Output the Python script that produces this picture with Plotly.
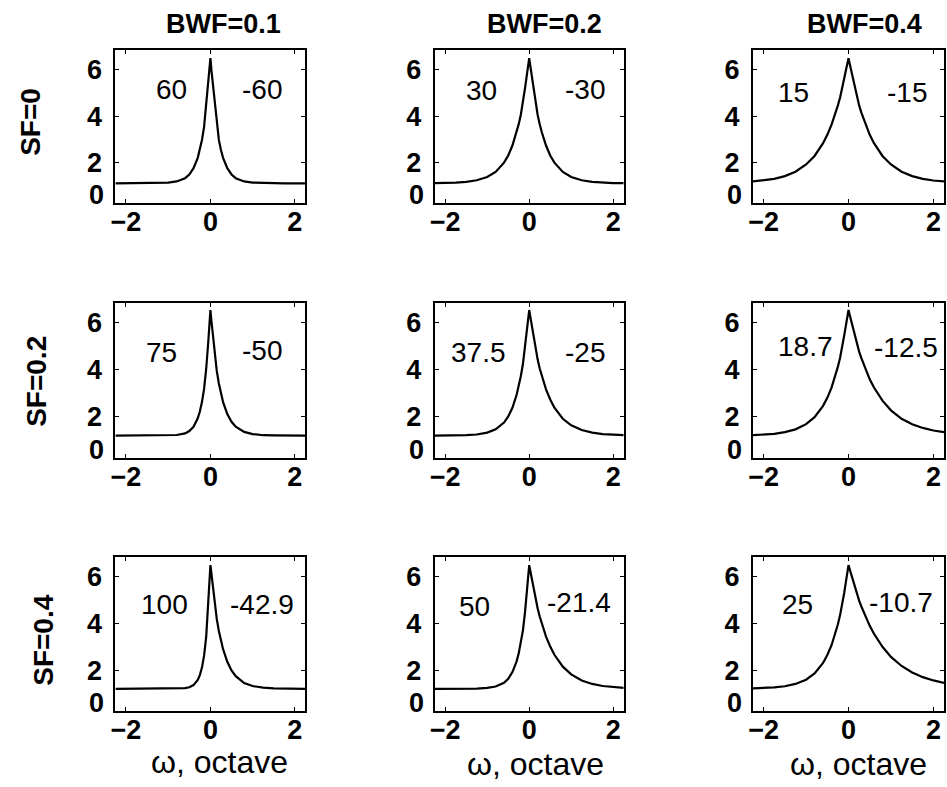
import plotly.graph_objects as go

# ---------------- data ----------------
X = [-2.25, -2.0, -1.75, -1.5, -1.25, -1.0, -0.8, -0.6, -0.5, -0.4, -0.3, -0.25, -0.2,
     -0.15, -0.1, -0.05, -0.025, 0, 0.025, 0.05, 0.1, 0.15, 0.2, 0.25, 0.3, 0.4, 0.5,
     0.6, 0.8, 1.0, 1.25, 1.5, 1.75, 2.0, 2.25]

R1C1 = [1.10, 1.10, 1.10, 1.10, 1.11, 1.13, 1.18, 1.32, 1.48, 1.75, 2.20, 2.54, 2.97, 3.53, 4.45, 5.53, 5.96,
        6.50,
        5.96, 5.53, 4.45, 3.53, 2.97, 2.54, 2.20, 1.75, 1.48, 1.32, 1.18, 1.13, 1.11, 1.10, 1.10, 1.10, 1.10]
R1C2 = [1.11, 1.11, 1.13, 1.16, 1.23, 1.37, 1.59, 1.99, 2.30, 2.73, 3.30, 3.65, 4.06, 4.55, 5.20, 5.85, 6.18,
        6.50,
        6.18, 5.85, 5.20, 4.55, 4.06, 3.65, 3.30, 2.73, 2.30, 1.99, 1.59, 1.37, 1.23, 1.16, 1.13, 1.11, 1.11]
R1C3 = [1.18, 1.22, 1.29, 1.41, 1.60, 1.91, 2.28, 2.83, 3.19, 3.63, 4.16, 4.46, 4.79, 5.16, 5.64, 6.07, 6.28,
        6.50,
        6.28, 6.07, 5.64, 5.16, 4.79, 4.46, 4.16, 3.63, 3.19, 2.83, 2.28, 1.91, 1.60, 1.41, 1.29, 1.22, 1.18]

R2C1 = [1.20, 1.20, 1.20, 1.20, 1.20, 1.21, 1.23, 1.30, 1.40, 1.58, 1.94, 2.23, 2.63, 3.19, 4.04, 5.21, 5.85,
        6.55,
        6.07, 5.64, 4.73, 3.97, 3.42, 2.98, 2.63, 2.12, 1.79, 1.58, 1.36, 1.27, 1.22, 1.21, 1.20, 1.20, 1.20]
R2C2 = [1.20, 1.20, 1.21, 1.22, 1.25, 1.33, 1.47, 1.76, 2.02, 2.39, 2.94, 3.30, 3.73, 4.25, 4.95, 5.75, 6.18,
        6.55,
        6.28, 6.02, 5.43, 4.88, 4.45, 4.06, 3.73, 3.17, 2.74, 2.39, 1.92, 1.64, 1.44, 1.33, 1.27, 1.24, 1.22]
R2C3 = [1.22, 1.24, 1.28, 1.35, 1.47, 1.69, 1.99, 2.47, 2.81, 3.25, 3.81, 4.14, 4.51, 4.93, 5.48, 6.02, 6.28,
        6.55,
        6.36, 6.18, 5.80, 5.41, 5.08, 4.78, 4.51, 4.02, 3.60, 3.25, 2.69, 2.28, 1.92, 1.69, 1.53, 1.42, 1.35]

R3C1 = [1.20, 1.20, 1.20, 1.20, 1.20, 1.20, 1.21, 1.23, 1.27, 1.36, 1.58, 1.79, 2.11, 2.62, 3.43, 4.75, 5.60,
        6.50,
        6.13, 5.71, 4.91, 4.20, 3.68, 3.25, 2.90, 2.36, 1.99, 1.74, 1.45, 1.32, 1.25, 1.22, 1.21, 1.20, 1.20]
R3C2 = [1.20, 1.20, 1.20, 1.20, 1.21, 1.24, 1.30, 1.46, 1.63, 1.92, 2.38, 2.72, 3.15, 3.70, 4.49, 5.44, 5.97,
        6.50,
        6.26, 6.02, 5.52, 5.04, 4.65, 4.30, 3.98, 3.44, 3.01, 2.66, 2.15, 1.82, 1.56, 1.41, 1.32, 1.27, 1.24]
R3C3 = [1.22, 1.23, 1.26, 1.31, 1.41, 1.59, 1.86, 2.31, 2.65, 3.07, 3.63, 3.97, 4.35, 4.79, 5.33, 5.92, 6.21,
        6.50,
        6.34, 6.18, 5.86, 5.53, 5.24, 4.98, 4.74, 4.29, 3.90, 3.56, 3.00, 2.57, 2.18, 1.90, 1.70, 1.56, 1.45]

SERIES = [[R1C1, R1C2, R1C3], [R2C1, R2C2, R2C3], [R3C1, R3C2, R3C3]]
COL_TITLES = ["BWF=0.1", "BWF=0.2", "BWF=0.4"]
ROW_TITLES = ["SF=0", "SF=0.2", "SF=0.4"]
SLOPE_L = [["60", "30", "15"], ["75", "37.5", "18.7"], ["100", "50", "25"]]
SLOPE_R = [["-60", "-30", "-15"], ["-50", "-25", "-12.5"], ["-42.9", "-21.4", "-10.7"]]
X_LABEL = "ω, octave"
X_TICKS = [-2, 0, 2]
Y_TICKS = [2, 4, 6]
Y_ZERO_LABEL = "0"

# ---------------- layout (pixels) ----------------
W, H = 947, 787
COLS = [(111, 302), (432, 622), (752, 944)]
ROWS = [(50, 203), (303, 458), (557, 711)]
TITLE_POS = [(220, 24), (542, 24), (864, 24)]
YLAB_POS = [(25, 122), (31, 381), (38, 640)]
XLAB_POS = [(216, 762), (533, 764), (858, 764)]
L_POS = [[(167, 89), (479, 91), (793, 92)],
         [(157, 352), (476, 352), (805, 346)],
         [(160, 604), (472, 606), (797, 604)]]
R_POS = [[(258, 89), (583, 89), (907, 92)],
         [(258, 350), (583, 352), (906, 347)],
         [(258, 604), (577, 602), (901, 602)]]

FONT = "Liberation Sans, Arial, Helvetica, sans-serif"


def px(x):
    return x / W


def py(y):
    return 1 - y / H


def label(x, y, text, size, bold=False, **kw):
    f = dict(family=FONT, size=size, color="black")
    if bold:
        f["weight"] = "bold"
    d = dict(x=px(x), y=py(y), xref="paper", yref="paper", text=text, showarrow=False,
             xanchor="center", yanchor="middle", font=f)
    d.update(kw)
    return d


fig = go.Figure()
annotations = []
for i in range(3):
    for j in range(3):
        n = i * 3 + j + 1
        sfx = "" if n == 1 else str(n)
        fig.add_trace(go.Scatter(x=X, y=SERIES[i][j], mode="lines",
                                 line=dict(color="black", width=2.2),
                                 xaxis="x" + sfx, yaxis="y" + sfx, showlegend=False,
                                 hoverinfo="skip"))
        axis_common = dict(showline=True, linecolor="black", linewidth=2, mirror="ticks",
                           ticks="inside", ticklen=4, tickwidth=1.2, tickcolor="black",
                           showgrid=False, zeroline=False, fixedrange=True,
                           tickfont=dict(family=FONT, size=27, color="black", weight="bold"))
        fig.layout["xaxis" + sfx] = dict(domain=[px(COLS[j][0]), px(COLS[j][1])],
                                         anchor="y" + sfx, range=[-2.25, 2.25],
                                         tickvals=X_TICKS, ticklabelstandoff=-6, **axis_common)
        fig.layout["yaxis" + sfx] = dict(domain=[py(ROWS[i][1]), py(ROWS[i][0])],
                                         anchor="x" + sfx, range=[0.25, 6.85],
                                         tickvals=Y_TICKS, ticklabelstandoff=6, **axis_common)
        # "0" label at the bottom of the y axis, as in the reference
        annotations.append(label(COLS[j][0] - 9, ROWS[i][1] - 8, Y_ZERO_LABEL, 27, bold=True,
                                 xanchor="right", yanchor="middle"))
        annotations.append(label(L_POS[i][j][0], L_POS[i][j][1], SLOPE_L[i][j], 28))
        annotations.append(label(R_POS[i][j][0], R_POS[i][j][1], SLOPE_R[i][j], 28))

for j in range(3):
    annotations.append(label(TITLE_POS[j][0], TITLE_POS[j][1], COL_TITLES[j], 27, bold=True))
    annotations.append(label(XLAB_POS[j][0], XLAB_POS[j][1], X_LABEL, 32))
for i in range(3):
    annotations.append(label(YLAB_POS[i][0], YLAB_POS[i][1], ROW_TITLES[i], 28, bold=True,
                             textangle=-90))

fig.update_layout(width=W, height=H, margin=dict(l=0, r=0, t=0, b=0),
                  paper_bgcolor="white", plot_bgcolor="white",
                  annotations=annotations, showlegend=False)

fig.write_html("out.html", config={"displayModeBar": False})
